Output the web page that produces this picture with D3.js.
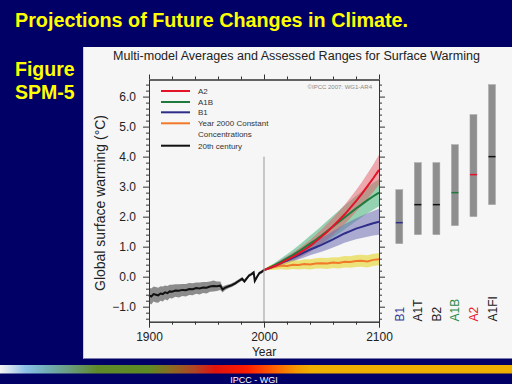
<!DOCTYPE html>
<html>
<head>
<meta charset="utf-8">
<script src="https://cdn.jsdelivr.net/npm/d3@7"></script>
<style>
  html, body { margin: 0; padding: 0; background: #000066; }
  svg { display: block; }
</style>
</head>
<body>
<script>
const width = 512;
const height = 384;

// 20th century observed mean and half-width of gray band
const histYears = [1900,1902,1904,1906,1908,1910,1912,1914,1916,1918,1920,1923,1926,1929,1932,1935,1938,1941,1944,1947,1950,1953,1956,1959,1962,1964,1966,1968,1970,1972,1975,1977,1979,1981,1983,1985,1987,1989,1991,1992,1994,1996,1998,2000];
const histMean = [-0.62,-0.66,-0.58,-0.6,-0.62,-0.56,-0.58,-0.52,-0.55,-0.49,-0.5,-0.46,-0.47,-0.44,-0.45,-0.41,-0.42,-0.38,-0.39,-0.36,-0.37,-0.33,-0.31,-0.32,-0.3,-0.43,-0.37,-0.34,-0.31,-0.28,-0.22,-0.17,-0.12,-0.07,-0.16,-0.06,0.04,0.08,0.14,-0.14,0.0,0.12,0.16,0.22];
const histSpread = [0.26,0.27,0.25,0.26,0.25,0.24,0.25,0.23,0.24,0.22,0.23,0.21,0.22,0.2,0.21,0.2,0.2,0.19,0.2,0.18,0.19,0.17,0.18,0.16,0.14,0.1,0.08,0.07,0.06,0.06,0.06,0.06,0.06,0.06,0.06,0.05,0.05,0.05,0.05,0.05,0.05,0.05,0.05,0.05];

// projections 2000-2100
const projYears = [2000,2005,2010,2015,2020,2025,2030,2035,2040,2045,2050,2055,2060,2065,2070,2075,2080,2085,2090,2095,2100];
const a2Mean = [0.22,0.29,0.37,0.46,0.56,0.66,0.77,0.89,1.02,1.17,1.33,1.5,1.68,1.87,2.07,2.29,2.52,2.76,3.02,3.28,3.56];
const a1bMean = [0.22,0.31,0.4,0.5,0.61,0.72,0.84,0.97,1.1,1.23,1.37,1.52,1.67,1.82,1.97,2.12,2.27,2.41,2.55,2.68,2.8];
const b1Mean = [0.22,0.29,0.37,0.45,0.54,0.63,0.72,0.81,0.9,0.98,1.06,1.15,1.24,1.34,1.44,1.52,1.6,1.66,1.72,1.78,1.83];
const commitMean = [0.22,0.3,0.33,0.37,0.36,0.4,0.39,0.42,0.41,0.44,0.45,0.44,0.47,0.46,0.5,0.49,0.52,0.53,0.51,0.56,0.58];
const a2Spread = [0,0.04,0.07,0.1,0.12,0.14,0.16,0.18,0.2,0.22,0.24,0.26,0.28,0.3,0.32,0.34,0.36,0.39,0.42,0.46,0.5];
const a1bSpread = [0,0.05,0.08,0.11,0.14,0.17,0.2,0.23,0.26,0.29,0.32,0.34,0.36,0.38,0.4,0.41,0.42,0.43,0.44,0.45,0.45];
const b1Spread = [0,0.04,0.07,0.09,0.11,0.13,0.15,0.17,0.19,0.21,0.23,0.25,0.27,0.29,0.31,0.33,0.35,0.37,0.39,0.41,0.43];
const commitSpread = [0,0.08,0.1,0.12,0.13,0.14,0.15,0.16,0.17,0.17,0.18,0.18,0.18,0.19,0.19,0.19,0.2,0.2,0.2,0.2,0.2];

// assessed likely ranges at 2090-2099
const scenNames = ["B1","A1T","B2","A1B","A2","A1FI"];
const scenBest = [1.8,2.4,2.4,2.8,3.4,4.0];
const scenLow = [1.1,1.4,1.4,1.7,2.0,2.4];
const scenHigh = [2.9,3.8,3.8,4.4,5.4,6.4];
const scenColors = ["#2e2e8a","#111","#111","#1f7a3c","#e3142a","#111"];
const scenLabelColors = ["#3a3a9a","#222","#222","#2a8a4a","#e8192c","#222"];

const legendNames = ["A2","A1B","B1","Year 2000 Constant","20th century"];
const legendColors = ["#e3142a","#1f7a3c","#2e2e8a","#f07a2a","#111"];

const svg = d3.select("body").append("svg")
  .attr("width", width).attr("height", height);

// slide background
svg.append("rect").attr("width", width).attr("height", height).attr("fill", "#000066");

svg.append("text").attr("x", 15).attr("y", 26.5)
  .attr("font-family", "Liberation Sans, Arial, sans-serif").attr("font-weight", "bold")
  .attr("font-size", 19.5).attr("fill", "#ffff00")
  .attr("textLength", 393).attr("lengthAdjust", "spacingAndGlyphs")
  .text("Projections of Future Changes in Climate.");
svg.append("text").attr("x", 15).attr("y", 76)
  .attr("font-family", "Liberation Sans, Arial, sans-serif").attr("font-weight", "bold")
  .attr("font-size", 19.5).attr("fill", "#ffff00").text("Figure");
svg.append("text").attr("x", 15).attr("y", 99)
  .attr("font-family", "Liberation Sans, Arial, sans-serif").attr("font-weight", "bold")
  .attr("font-size", 19.5).attr("fill", "#ffff00").text("SPM-5");

// white figure panel
svg.append("rect").attr("x", 83).attr("y", 47).attr("width", 429).attr("height", 311.5)
  .attr("fill", "#f6f6f6");
svg.append("line").attr("x1", 83.5).attr("x2", 83.5).attr("y1", 47).attr("y2", 358.5)
  .attr("stroke", "#c8cce0").attr("stroke-width", 1);

svg.append("text").attr("x", 296.5).attr("y", 60)
  .attr("text-anchor", "middle").attr("font-family", "Liberation Sans, Arial, sans-serif")
  .attr("font-size", 12.5).attr("fill", "#222")
  .attr("textLength", 367).attr("lengthAdjust", "spacingAndGlyphs")
  .text("Multi-model Averages and Assessed Ranges for Surface Warming");

// scales
const x = d3.scaleLinear().domain([1900, 2100]).range([149, 379]);
const y = d3.scaleLinear().domain([-1.5, 6.57]).range([321.7, 79.5]);

const g = svg.append("g");

// bands
const area = (yrs, mean, spr) => d3.area()
  .x((d, i) => x(yrs[i]))
  .y0((d, i) => y(mean[i] - spr[i]))
  .y1((d, i) => y(mean[i] + spr[i]))(mean);
const line = (yrs, mean) => d3.line()
  .x((d, i) => x(yrs[i]))
  .y(d => y(d))(mean);

g.append("path").attr("d", area(histYears, histMean, histSpread)).attr("fill", "#8c8c8c");
g.append("path").attr("d", area(projYears, a1bMean, a1bSpread)).attr("fill", "rgba(70,180,120,0.55)");
g.append("path").attr("d", area(projYears, a2Mean, a2Spread)).attr("fill", "rgba(225,90,100,0.5)");
g.append("path").attr("d", area(projYears, b1Mean, b1Spread)).attr("fill", "rgba(110,110,180,0.55)");
g.append("path").attr("d", area(projYears, commitMean, commitSpread)).attr("fill", "rgba(232,218,70,0.7)");

// lines
g.append("path").attr("d", line(histYears, histMean)).attr("fill", "none").attr("stroke", "#111").attr("stroke-width", 2);
g.append("path").attr("d", line(projYears, commitMean)).attr("fill", "none").attr("stroke", "#f07a2a").attr("stroke-width", 2);
g.append("path").attr("d", line(projYears, b1Mean)).attr("fill", "none").attr("stroke", "#2e2e8a").attr("stroke-width", 2);
g.append("path").attr("d", line(projYears, a1bMean)).attr("fill", "none").attr("stroke", "#1f7a3c").attr("stroke-width", 2);
g.append("path").attr("d", line(projYears, a2Mean)).attr("fill", "none").attr("stroke", "#e3142a").attr("stroke-width", 2);

// year 2000 marker
g.append("line").attr("x1", x(2000)).attr("x2", x(2000)).attr("y1", y(4.0)).attr("y2", y(-1.5))
  .attr("stroke", "#999").attr("stroke-width", 1);

// axes
const majorY = d3.range(-1, 7, 1);
const minorY = d3.range(-1.4, 6.5, 0.2).filter(v => Math.abs(v - Math.round(v)) > 0.01);
const majorX = [1900, 2000, 2100];
const minorX = d3.range(1920, 2100, 20).filter(v => v !== 2000);

function styleAxis(sel) {
  sel.selectAll("path, line").attr("stroke", "#333");
  sel.selectAll("text").attr("font-family", "Liberation Sans, Arial, sans-serif")
    .attr("font-size", 12).attr("fill", "#222");
}

g.append("g").attr("transform", `translate(149,0)`)
  .call(d3.axisLeft(y).tickValues(minorY).tickSize(3).tickSizeOuter(0).tickFormat(""))
  .call(styleAxis);
g.append("g").attr("transform", `translate(149,0)`)
  .call(d3.axisLeft(y).tickValues(majorY).tickSize(6).tickSizeOuter(0).tickPadding(7).tickFormat(d3.format(".1f")))
  .call(styleAxis);
g.append("g").attr("transform", `translate(379,0)`)
  .call(d3.axisRight(y).tickValues(minorY).tickSize(3).tickSizeOuter(0).tickFormat(""))
  .call(styleAxis);
g.append("g").attr("transform", `translate(379,0)`)
  .call(d3.axisRight(y).tickValues(majorY).tickSize(6).tickSizeOuter(0).tickFormat(""))
  .call(styleAxis);
g.append("g").attr("transform", `translate(0,${y(-1.5)})`)
  .call(d3.axisBottom(x).tickValues(minorX).tickSize(3).tickSizeOuter(0).tickFormat(""))
  .call(styleAxis);
g.append("g").attr("transform", `translate(0,${y(-1.5)})`)
  .call(d3.axisBottom(x).tickValues(majorX).tickSize(6).tickSizeOuter(0).tickPadding(5).tickFormat(d3.format("d")))
  .call(styleAxis);
g.append("g").attr("transform", `translate(0,${y(6.57)})`)
  .call(d3.axisTop(x).tickValues(minorX).tickSize(3).tickSizeOuter(0).tickFormat(""))
  .call(styleAxis);
g.append("g").attr("transform", `translate(0,${y(6.57)})`)
  .call(d3.axisTop(x).tickValues(majorX).tickSize(5).tickSizeOuter(0).tickFormat(""))
  .call(styleAxis);

svg.append("text").attr("x", 264).attr("y", 356).attr("text-anchor", "middle")
  .attr("font-family", "Liberation Sans, Arial, sans-serif").attr("font-size", 12).attr("fill", "#222")
  .text("Year");
svg.append("text").attr("transform", "translate(105,203) rotate(-90)").attr("text-anchor", "middle")
  .attr("font-family", "Liberation Sans, Arial, sans-serif").attr("font-size", 14).attr("fill", "#222")
  .text("Global surface warming (°C)");

svg.append("text").attr("x", 372).attr("y", 89).attr("text-anchor", "end")
  .attr("font-family", "Liberation Sans, Arial, sans-serif").attr("font-size", 6).attr("fill", "#888")
  .text("©IPCC 2007: WG1-AR4");

// legend
const legY = [91, 102, 112.3, 123.3, 145.7];
const leg = svg.append("g");
legendNames.forEach((name, i) => {
  leg.append("line").attr("x1", 161).attr("x2", 190).attr("y1", legY[i]).attr("y2", legY[i])
    .attr("stroke", legendColors[i]).attr("stroke-width", 2);
  leg.append("text").attr("x", 198).attr("y", legY[i] + 3)
    .attr("font-family", "Liberation Sans, Arial, sans-serif").attr("font-size", 8).attr("fill", "#333")
    .text(name);
});
leg.append("text").attr("x", 198).attr("y", 134 + 3)
  .attr("font-family", "Liberation Sans, Arial, sans-serif").attr("font-size", 8).attr("fill", "#333")
  .text("Concentrations");

// likely ranges
const sx = d3.scalePoint().domain(scenNames).range([399.3, 492]);
const bars = svg.append("g");
scenNames.forEach((n, i) => {
  bars.append("rect").attr("x", sx(n) - 3.5).attr("width", 7)
    .attr("y", y(scenHigh[i])).attr("height", y(scenLow[i]) - y(scenHigh[i]))
    .attr("fill", "#8e8e8e").attr("stroke", "#a8a8a8").attr("stroke-width", 0.5);
  bars.append("line").attr("x1", sx(n) - 3.5).attr("x2", sx(n) + 3.5)
    .attr("y1", y(scenBest[i])).attr("y2", y(scenBest[i]))
    .attr("stroke", scenColors[i]).attr("stroke-width", 1.5);
  bars.append("text").attr("transform", `translate(${sx(n) + 4.5},321.5) rotate(-90)`)
    .attr("font-family", "Liberation Sans, Arial, sans-serif").attr("font-size", 12)
    .attr("fill", scenLabelColors[i]).text(n);
});

// colour strip at bottom
const defs = svg.append("defs");
const grad = defs.append("linearGradient").attr("id", "strip").attr("x1", 0).attr("x2", 1).attr("y1", 0).attr("y2", 0);
const stripStops = [[0, "#f4f4f4"], [0.02, "#d0e0ee"], [0.05, "#8cc0e6"], [0.09, "#72aeb8"], [0.14, "#6a9a78"], [0.19, "#5e8a2a"], [0.29, "#5e8a24"], [0.33, "#866e22"], [0.38, "#b04424"], [0.42, "#e0140e"], [0.48, "#ff1a00"], [0.53, "#ff5a00"], [0.58, "#f49a00"], [0.61, "#eeb000"], [1, "#eeb000"]];
stripStops.forEach(s => grad.append("stop").attr("offset", s[0]).attr("stop-color", s[1]));
svg.append("rect").attr("x", 0).attr("y", 365).attr("width", width).attr("height", 8.5).attr("fill", "url(#strip)");
svg.append("text").attr("x", 254).attr("y", 383).attr("text-anchor", "middle")
  .attr("font-family", "Liberation Sans, Arial, sans-serif").attr("font-size", 9).attr("fill", "#fff")
  .text("IPCC - WGI");
</script>
</body>
</html>
